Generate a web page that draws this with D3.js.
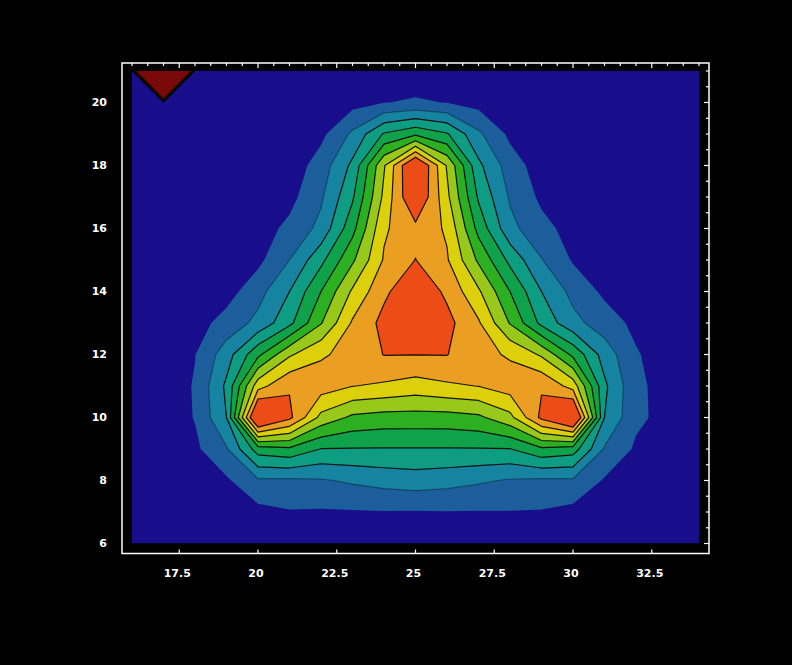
<!DOCTYPE html>
<html>
<head>
<meta charset="utf-8">
<script src="https://cdn.jsdelivr.net/npm/d3@7"></script>
<style>
  body { margin: 0; background: #000; }
  text { font-family: "DejaVu Sans", sans-serif; font-weight: bold; font-size: 11px; fill: #fff; }
</style>
</head>
<body>
<svg width="792" height="665"></svg>
<script>
var gridX = [16, 17, 18, 19, 20, 21, 22, 23, 24, 25, 26, 27, 28, 29, 30, 31, 32, 33, 34];
var gridY = [21, 20, 19, 18, 17, 16, 15, 14, 13, 12, 11, 10, 9, 8, 7, 6];
var zRows = [
  [0, 120, 0, 0, 0, 0, 0, 0.1, 0.3, 0.4, 0.3, 0.1, 0, 0, 0, 0, 0, 0, 0],
  [0, 0, 0, 0.05, 0.1, 0.2, 0.4, 0.65, 0.97, 1.12, 0.97, 0.65, 0.4, 0.2, 0.1, 0.05, 0, 0, 0],
  [0, 0, 0.05, 0.1, 0.2, 0.35, 0.75, 2.19, 4.1, 4.79, 4.1, 2.19, 0.78, 0.4, 0.25, 0.1, 0.05, 0, 0],
  [0, 0.05, 0.1, 0.15, 0.25, 0.4, 1.46, 3.23, 6.9, 10.5, 6.9, 3.23, 1.5, 0.5, 0.3, 0.2, 0.1, 0.05, 0],
  [0, 0.05, 0.15, 0.25, 0.35, 0.7, 1.84, 3.86, 7.24, 10.2, 7.24, 3.86, 1.88, 0.8, 0.4, 0.3, 0.15, 0.05, 0],
  [0, 0.05, 0.2, 0.35, 0.55, 1.24, 2.29, 4.67, 7.86, 8.7, 7.86, 4.67, 2.29, 1.3, 0.65, 0.4, 0.2, 0.05, 0],
  [0, 0.1, 0.25, 0.4, 0.75, 2.0, 3.73, 5.83, 8.1, 9.02, 8.1, 5.83, 3.73, 2.05, 0.9, 0.45, 0.25, 0.1, 0],
  [0, 0.15, 0.3, 0.6, 1.63, 3.0, 5.0, 7.15, 8.8, 9.8, 8.8, 7.15, 5.0, 3.0, 1.7, 0.8, 0.35, 0.15, 0],
  [0, 0.2, 0.6, 1.38, 2.28, 3.73, 5.93, 8.13, 9.3, 9.5, 9.3, 8.13, 5.93, 3.73, 2.3, 1.5, 0.75, 0.25, 0],
  [0.05, 0.3, 0.97, 2.53, 4.76, 6.85, 7.88, 8.3, 9.03, 9.02, 9.03, 8.3, 7.88, 6.85, 4.76, 2.55, 1.1, 0.45, 0.05],
  [0.1, 0.4, 1.08, 3.2, 7.6, 8.9, 8.5, 8.02, 7.85, 7.58, 7.85, 8.02, 8.5, 8.9, 7.6, 3.2, 1.2, 0.65, 0.1],
  [0.1, 0.4, 1.05, 3.0, 11.0, 9.25, 6.7, 5.8, 5.6, 5.59, 5.6, 5.8, 6.7, 9.25, 11.0, 3.0, 1.2, 0.7, 0.1],
  [0.05, 0.3, 0.8, 1.9, 4.5, 4.8, 3.97, 3.95, 3.94, 3.94, 3.94, 3.95, 3.97, 4.8, 4.5, 1.9, 0.85, 0.35, 0.05],
  [0, 0.15, 0.4, 0.85, 1.85, 1.82, 1.9, 2.14, 2.36, 2.5, 2.36, 2.14, 1.9, 1.82, 1.85, 0.9, 0.45, 0.15, 0],
  [0, 0.05, 0.15, 0.3, 0.7, 0.93, 0.9, 0.92, 0.96, 0.94, 0.97, 0.95, 0.96, 0.93, 0.7, 0.3, 0.15, 0.05, 0],
  [0, 0, 0.05, 0.1, 0.15, 0.2, 0.2, 0.2, 0.2, 0.2, 0.2, 0.2, 0.2, 0.2, 0.15, 0.1, 0.05, 0, 0]
];
var levels = [1, 2, 3, 4, 5, 6, 7, 8, 9, 14];
var bandColors = ["#180e8c", "#1c5e9c", "#1684a0", "#0e9c82", "#10a24a", "#2cb022",
                  "#98c81a", "#dccf0c", "#eb9f22", "#ec4c16", "#7a0a0a"];
var xTicks = [17.5, 20, 22.5, 25, 27.5, 30, 32.5];
var yTicks = [6, 8, 10, 12, 14, 16, 18, 20];

var svg = d3.select('svg');
svg.append('rect').attr('width', 792).attr('height', 665).attr('fill', '#000');

var x = d3.scaleLinear().domain([16, 34]).range([132, 699]);
var y = d3.scaleLinear().domain([6, 21]).range([543.5, 71]);

svg.append('clipPath').attr('id', 'plotclip')
  .append('rect')
  .attr('x', x(16)).attr('y', y(21))
  .attr('width', x(34) - x(16)).attr('height', y(6) - y(21));

var plot = svg.append('g').attr('clip-path', 'url(#plotclip)');

// lowest band fills the whole area
plot.append('rect')
  .attr('x', x(16)).attr('y', y(21))
  .attr('width', x(34) - x(16)).attr('height', y(6) - y(21))
  .attr('fill', bandColors[0]);

var nx = gridX.length, ny = gridY.length;
var values = [];
zRows.forEach(function(row){ row.forEach(function(v){ values.push(v); }); });

var stepX = gridX[1] - gridX[0];
var stepY = gridY[0] - gridY[1];
var proj = d3.geoTransform({
  point: function(px, py) {
    this.stream.point(x(gridX[0] + (px - 0.5) * stepX), y(gridY[0] - (py - 0.5) * stepY));
  }
});
var path = d3.geoPath(proj);

var contours = d3.contours().size([nx, ny]).thresholds(levels)(values);

plot.selectAll('path.band')
  .data(contours)
  .enter().append('path')
  .attr('class', 'band')
  .attr('d', path)
  .attr('fill', function(d, i){ return bandColors[i + 1]; })
  .attr('stroke', function(d, i){ return i === 0 ? 'none' : '#000'; })
  .attr('stroke-opacity', function(d, i){ return i === 1 ? 0.35 : 0.9; })
  .attr('stroke-width', 1.2)
  .attr('stroke-linejoin', 'round');

// frame
var pad = 10;
svg.append('rect')
  .attr('x', x(16) - pad).attr('y', y(21) - 8)
  .attr('width', x(34) - x(16) + 2 * pad).attr('height', y(6) - y(21) + 18)
  .attr('fill', 'none').attr('stroke', '#fff').attr('stroke-width', 1.5);

var frameTop = y(21) - 8, frameBottom = y(6) + 10, frameRight = x(34) + pad;

// top ticks every 0.5
var topTicks = d3.range(16, 34.001, 0.5);
svg.selectAll('line.ttick').data(topTicks).enter().append('line')
  .attr('x1', function(d){ return x(d); }).attr('x2', function(d){ return x(d); })
  .attr('y1', frameTop).attr('y2', function(d){ return frameTop + (d % 2.5 === 0 ? 5 : 3); })
  .attr('stroke', '#fff').attr('stroke-width', 1.2);

// right ticks every 0.5
var rightTicks = d3.range(6, 21.001, 0.5);
svg.selectAll('line.rtick').data(rightTicks).enter().append('line')
  .attr('y1', function(d){ return y(d); }).attr('y2', function(d){ return y(d); })
  .attr('x1', frameRight).attr('x2', function(d){ return frameRight - (d % 2 === 0 ? 5 : 3); })
  .attr('stroke', '#fff').attr('stroke-width', 1.2);

// bottom ticks at labels
svg.selectAll('line.btick').data(xTicks).enter().append('line')
  .attr('x1', function(d){ return x(d); }).attr('x2', function(d){ return x(d); })
  .attr('y1', frameBottom).attr('y2', frameBottom - 4)
  .attr('stroke', '#fff').attr('stroke-width', 1.2);

svg.selectAll('text.xl').data(xTicks).enter().append('text')
  .attr('x', function(d){ return x(d) - 2; }).attr('y', 573)
  .attr('text-anchor', 'middle').attr('dominant-baseline', 'central')
  .text(function(d){ return d; });

svg.selectAll('text.yl').data(yTicks).enter().append('text')
  .attr('x', 107).attr('y', function(d){ return y(d); })
  .attr('text-anchor', 'end').attr('dominant-baseline', 'central')
  .text(function(d){ return d; });
</script>
</body>
</html>
